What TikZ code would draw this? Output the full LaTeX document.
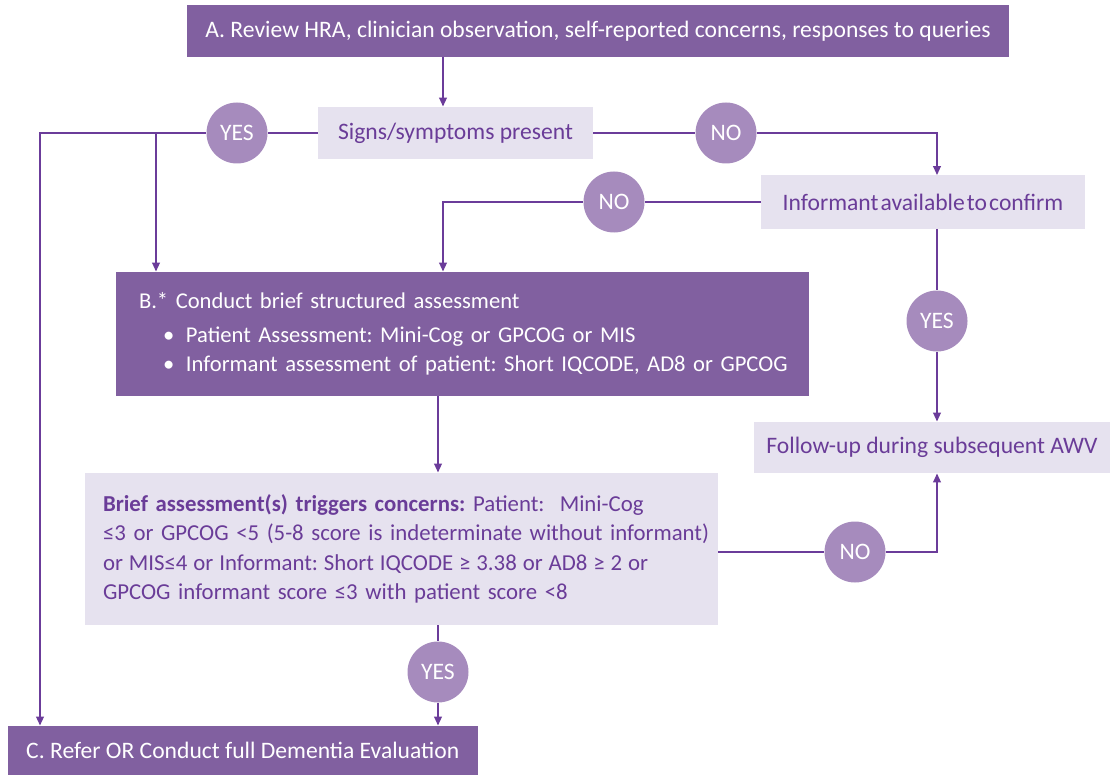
\documentclass[tikz,border=0pt]{standalone}
\usepackage{fontspec}
\setmainfont{Carlito}
\usetikzlibrary{arrows.meta}
\definecolor{darkbox}{HTML}{8160A0}
\definecolor{lightbox}{HTML}{E6E2EF}
\definecolor{circfill}{HTML}{A68BBD}
\definecolor{linepurple}{HTML}{6B3C9A}
\definecolor{textpurple}{HTML}{6A3C98}
\tikzset{
	darkstep/.style={fill=darkbox, text=white, inner sep=0pt},
	lightstep/.style={fill=lightbox, text=textpurple, inner sep=0pt},
	answer/.style={circle, fill=circfill, text=white, minimum size=30.5pt, inner sep=0pt},
	flow/.style={draw=linepurple, line width=0.95pt},
	flowarrow/.style={flow, -{Triangle[length=4.5pt,width=3.8pt]}}
}
\frenchspacing
\begin{document}
\begin{tikzpicture}[x=0.5pt, y=-0.5pt, font=\fontsize{11.8}{14.75}\selectfont\frenchspacing]
			\useasboundingbox (0,0) rectangle (1112,775);
			
			%Steps
			\node[darkstep, minimum width=410.75pt, minimum height=26pt] (review) at (598,31) {A. Review HRA, clinician observation, self-reported concerns, responses to queries};
			\node[lightstep, minimum width=137.5pt, minimum height=26pt] (signs) at (455.5,133) {Signs/symptoms present};
			\node[lightstep, minimum width=162pt, minimum height=26.5pt] (inform) at (923,202) {\spaceskip=.09em\relax Informant available to confirm};
			\node[darkstep, minimum width=346.5pt, minimum height=62pt, inner xsep=11.5pt, text width=323.5pt, align=left, font=\fontsize{11.3}{14.75}\selectfont\frenchspacing] (assess) at (462.5,334) {\mbox{B.* Conduct brief structured assessment}\\[2pt]
				\mbox{\hspace*{12pt}\makebox[11.5pt][l]{\textbullet}Patient Assessment: Mini-Cog or GPCOG or MIS}\\
				\mbox{\hspace*{12pt}\makebox[11.5pt][l]{\textbullet}Informant assessment of patient: Short IQCODE, AD8 or GPCOG}};
			\node[lightstep, minimum width=178pt, minimum height=25.5pt] (follow) at (932,447.5) {Follow-up during subsequent AWV};
			\node[lightstep, minimum width=316.5pt, minimum height=76pt, inner xsep=9pt, text width=298.5pt, align=left, font=\fontsize{11.4}{14.75}\selectfont\frenchspacing] (brief) at (401.5,549) {\mbox{\textbf{Brief assessment(s) triggers concerns:} Patient:\ \ Mini-Cog}\\
				\mbox{≤3 or GPCOG <5 (5-8 score is indeterminate without informant)}\\
				\mbox{\spaceskip=.26em\relax or MIS≤4 or Informant: Short IQCODE ≥ 3.38 or AD8 ≥ 2 or}\\
				\mbox{GPCOG informant score ≤3 with patient score <8}};
			\node[darkstep, minimum width=234.75pt, minimum height=24.5pt] (refer) at (242.75,750.5) {C. Refer OR Conduct full Dementia Evaluation};
			
			%Answers
			\node[answer] (yes1) at (237,133) {YES};
			\node[answer] (no1) at (726,133) {NO};
			\node[answer] (no2) at (614,202) {NO};
			\node[answer] (yes2) at (937,321) {YES};
			\node[answer] (no3) at (855,552) {NO};
			\node[answer] (yes3) at (438,672) {YES};
			
			%Corners
			\coordinate (lft) at (40,133);
			\coordinate (yesdrop) at (156,133);
			\coordinate (midtop) at (443,202);
			
			%Connectors
			\draw[flowarrow] (review.south -| midtop) -- (signs.north -| midtop);
			\draw[flow] (signs.west) -- (yes1.east);
			\draw[flowarrow] (yes1.west) -- (lft) -- (lft |- refer.north);
			\draw[flowarrow] (yesdrop) -- (yesdrop |- assess.north);
			\draw[flow] (signs.east) -- (no1.west);
			\draw[flowarrow] (no1.east) -- (no1 -| yes2) -- (yes2 |- inform.north);
			\draw[flow] (inform.west) -- (no2.east);
			\draw[flowarrow] (no2.west) -- (midtop) -- (midtop |- assess.north);
			\draw[flow] (inform.south -| yes2) -- (yes2.north);
			\draw[flowarrow] (yes2.south) -- (yes2 |- follow.north);
			\draw[flowarrow] (assess.south -| yes3) -- (brief.north -| yes3);
			\draw[flow] (brief.east |- no3) -- (no3.west);
			\draw[flowarrow] (no3.east) -- (no3 -| yes2) -- (yes2 |- follow.south);
			\draw[flow] (brief.south -| yes3) -- (yes3.north);
			\draw[flowarrow] (yes3.south) -- (yes3 |- refer.north);
\end{tikzpicture}
\end{document}
